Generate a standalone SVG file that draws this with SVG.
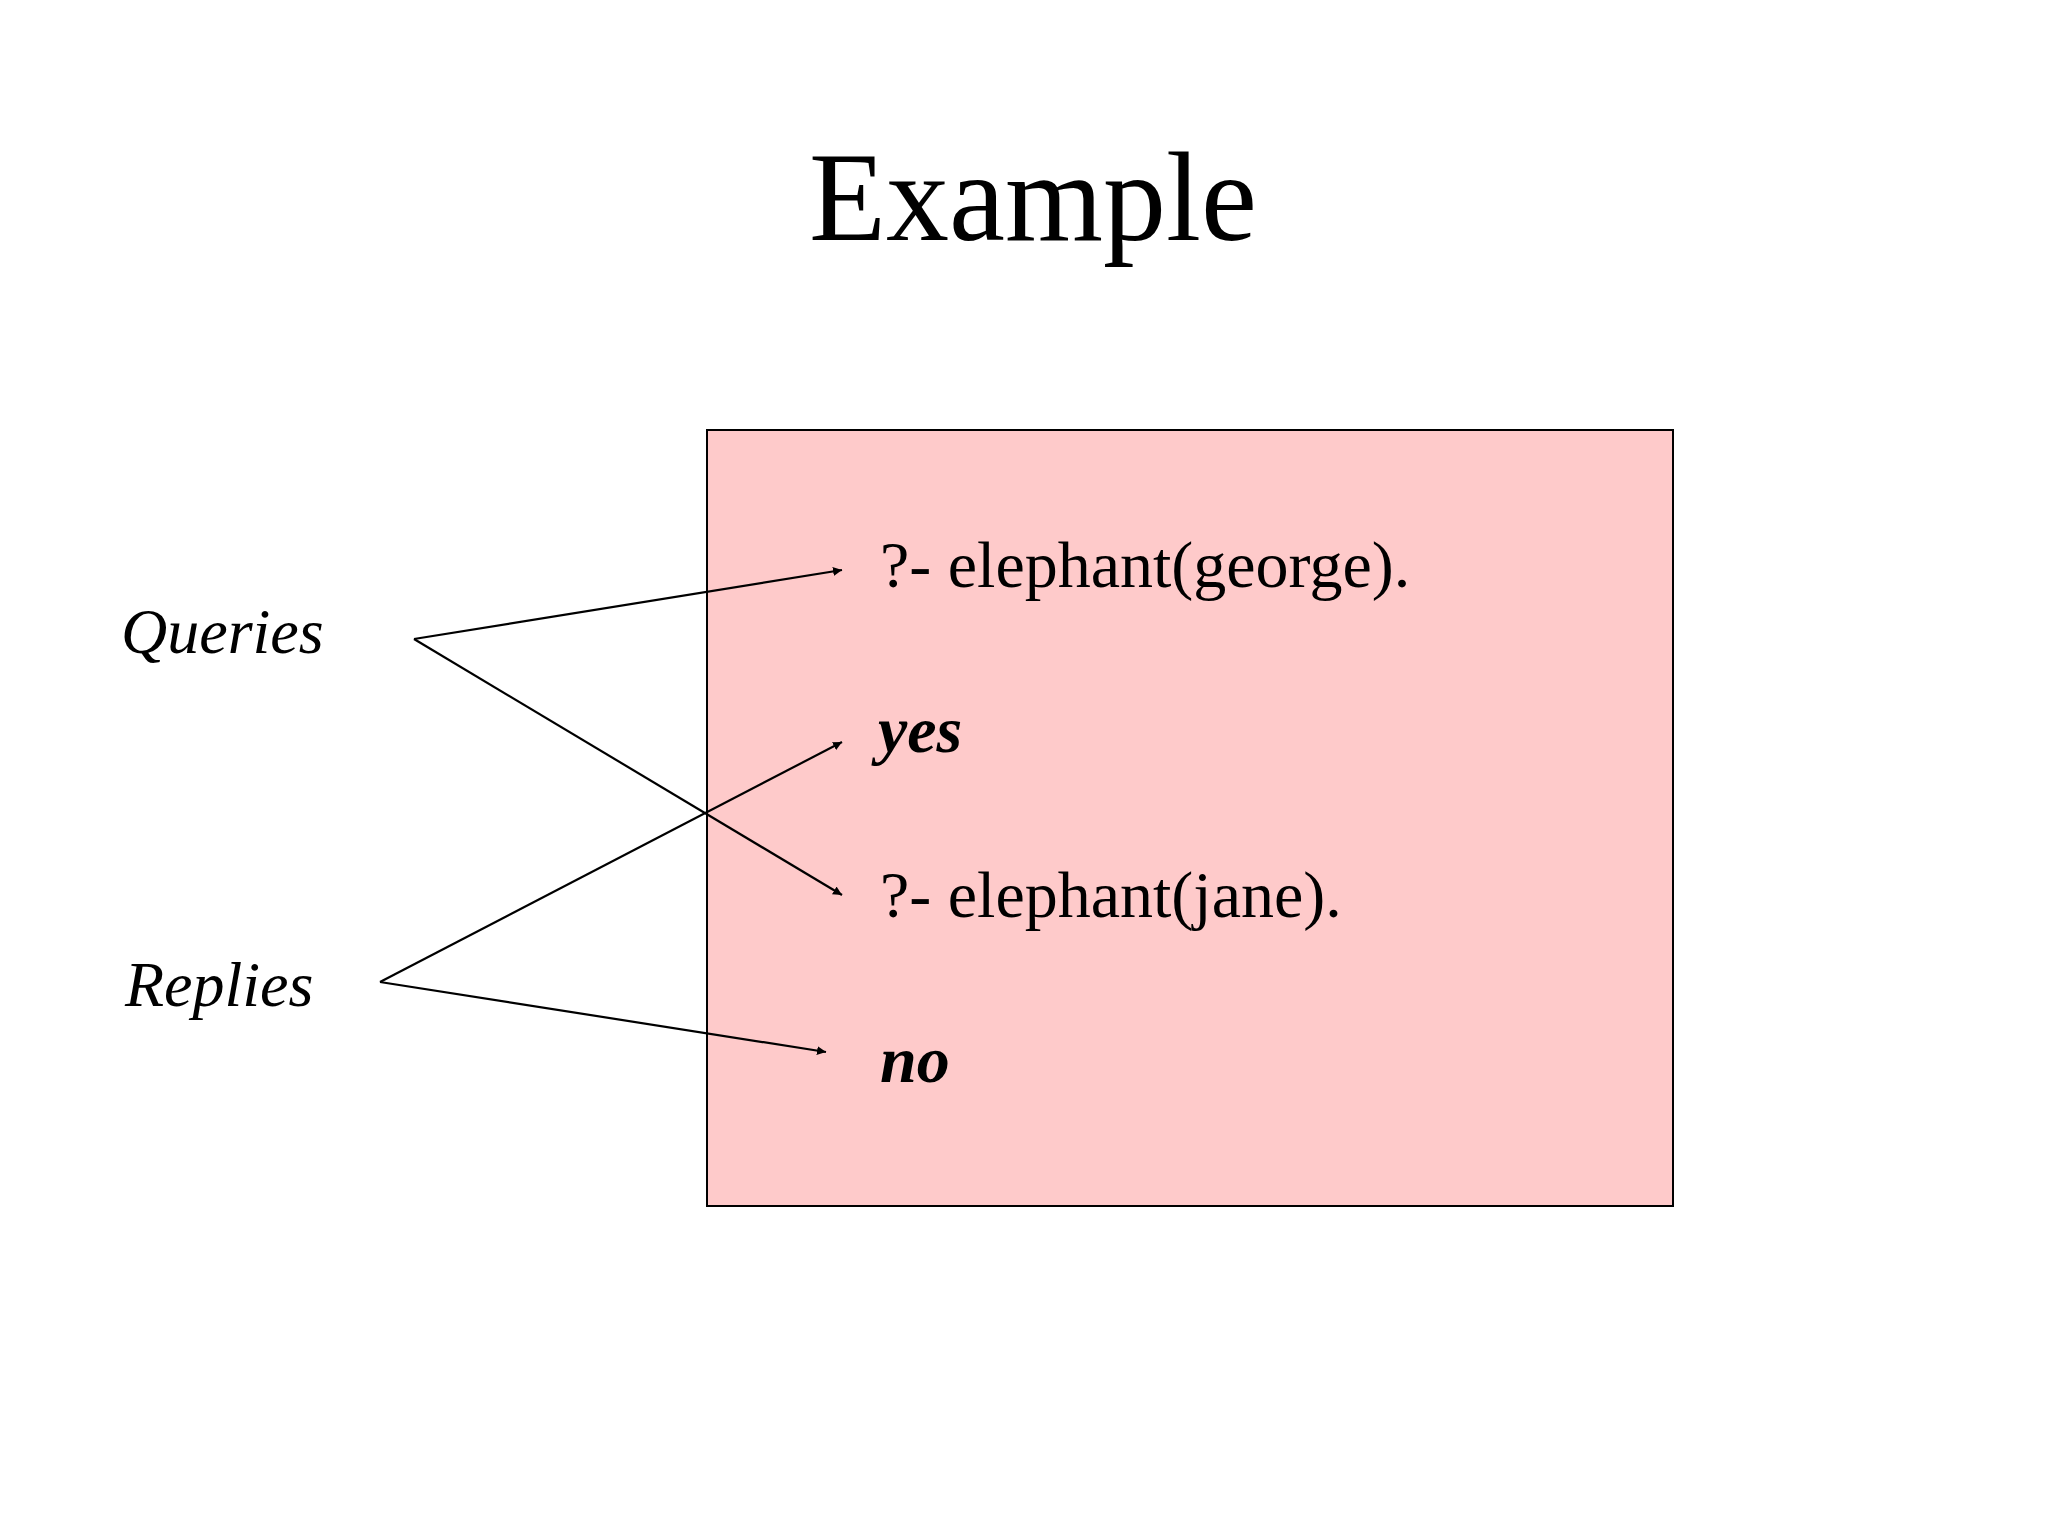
<svg xmlns="http://www.w3.org/2000/svg" width="2048" height="1536" viewBox="0 0 2048 1536">
<style>
text{font-family:"Liberation Serif","Times New Roman",serif;fill:#000}
.c{stroke:#000;stroke-width:2.2;fill:none;marker-end:url(#a)}
</style>
<defs><marker id="a" viewBox="0 0 10 10" refX="10" refY="5" markerWidth="9" markerHeight="9" markerUnits="userSpaceOnUse" orient="auto"><path d="M0,0L10,5L0,10z" fill="#000"/></marker></defs>
<rect width="2048" height="1536" fill="#fff"/>
<text x="1033" y="240" font-size="126" text-anchor="middle">Example</text>
<g id="box"><rect x="707" y="430" width="966" height="776" fill="#fecaca" stroke="#000" stroke-width="2"/></g>
<g id="q1"><text x="880" y="587" font-size="66">?- elephant(george).</text></g>
<g id="yes"><text x="878" y="752" font-size="66" font-weight="bold" font-style="italic">yes</text></g>
<g id="q2"><text x="880" y="917" font-size="66">?- elephant(jane).</text></g>
<g id="no"><text x="880" y="1082" font-size="66" font-weight="bold" font-style="italic">no</text></g>
<g id="queries"><text x="121" y="653" font-size="64" font-style="italic">Queries</text></g>
<g id="replies"><text x="125" y="1006" font-size="64" font-style="italic">Replies</text></g>
<g id="connectors">
<line class="c" x1="414" y1="639" x2="842" y2="570"/>
<line class="c" x1="414" y1="639" x2="842" y2="895"/>
<line class="c" x1="380" y1="982" x2="842" y2="742"/>
<line class="c" x1="380" y1="982" x2="826" y2="1052"/>
</g>
</svg>
